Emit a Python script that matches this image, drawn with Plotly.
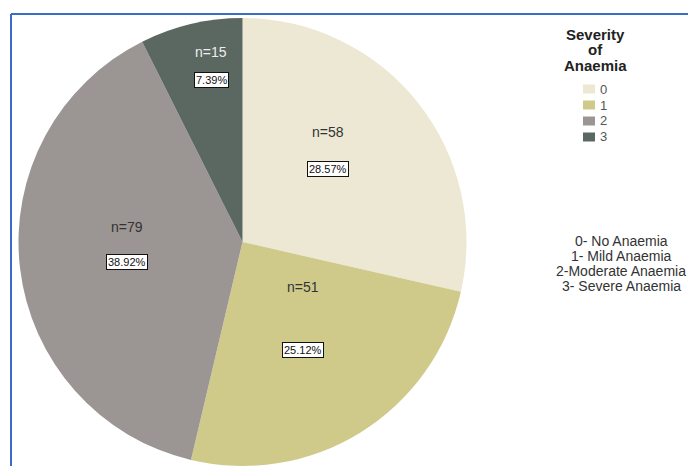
import math
import plotly.graph_objects as go

# ---- data ----
categories = ["0", "1", "2", "3"]
counts = [58, 51, 79, 15]
legend_title_lines = ["Severity", "of", "Anaemia"]
key_lines = ["0- No Anaemia", "1- Mild Anaemia", "2-Moderate Anaemia", "3- Severe Anaemia"]

# ---- style ----
colors = ["#ece8d3", "#cfca8a", "#9b9594", "#5b6761"]
n_colors = ["#333333", "#333333", "#333333", "#eeeeee"]
label_t = [0.42, 0.43, 0.54, 0.62]     # angular position within slice (0..1)
label_r = [0.56, 0.435, 0.517, 0.80]   # radial fraction for label group
label_gap = [37, 63, 35, 28]           # px between n-label and % box
FONT = "Liberation Sans, Arial, sans-serif"

OFF = 8  # page body margin; convert page px -> figure px
W, H = 696 - OFF, 466 - OFF


def px_x(p):
    return (p - OFF) / W


def px_y(p):
    return 1 - (p - OFF) / H


# pie extends 3px below the visible page; keep domain inside [0,1]
top, left, right = 18, 17, 468
diam = right - left
dom_x = [px_x(left), px_x(right)]
dom_y = [max(0.0, px_y(top + diam)), px_y(top)]

fig = go.Figure()
fig.add_trace(go.Pie(
    labels=categories,
    values=counts,
    sort=False,
    direction="clockwise",
    rotation=0,
    marker=dict(colors=colors, line=dict(width=0)),
    textinfo="none",
    hoverinfo="label+value+percent",
    domain=dict(x=dom_x, y=dom_y),
    showlegend=False,
))

# label positions derived from slice angles
total = sum(counts)
dh = (dom_y[1] - dom_y[0]) * H
dw = (dom_x[1] - dom_x[0]) * W
R = min(dh, dw) / 2
cx = (dom_x[0] + dom_x[1]) / 2 * W
cy = (1 - (dom_y[0] + dom_y[1]) / 2) * H

annotations = []
shapes = []
cum = 0
for i, v in enumerate(counts):
    ang = (cum + v * label_t[i]) / total * 2 * math.pi
    cum += v
    px = cx + label_r[i] * R * math.sin(ang)
    py = cy - label_r[i] * R * math.cos(ang)
    xp, yp = px / W, 1 - py / H
    annotations.append(dict(
        x=xp, y=yp, xref="paper", yref="paper", showarrow=False,
        xanchor="center", yanchor="middle",
        text=f"n={v}", yshift=label_gap[i] / 2,
        font=dict(family=FONT, size=14, color=n_colors[i]),
    ))
    annotations.append(dict(
        x=xp, y=yp, xref="paper", yref="paper", showarrow=False,
        xanchor="center", yanchor="middle",
        text=f"{v / total * 100:.2f}%", yshift=-label_gap[i] / 2,
        font=dict(family=FONT, size=11, color="#111111"),
        bgcolor="#ffffff", bordercolor="#111111", borderwidth=1, borderpad=1,
    ))

# legend title (centered, bold)
for j, t in enumerate(legend_title_lines):
    annotations.append(dict(
        x=px_x(595), y=px_y(34 + 16 * j), xref="paper", yref="paper", showarrow=False,
        xanchor="center", yanchor="middle",
        text=f"<b>{t}</b>", font=dict(family=FONT, size=15, color="#222222"),
    ))

# legend entries (swatch + label) built from categories/colors
for j, (cat, col) in enumerate(zip(categories, colors)):
    yc = 89 + 16 * j
    shapes.append(dict(
        type="rect", xref="paper", yref="paper",
        x0=px_x(583), x1=px_x(595), y0=px_y(yc + 4.5), y1=px_y(yc - 4.5),
        fillcolor=col, line=dict(width=0),
    ))
    annotations.append(dict(
        x=px_x(598), y=px_y(yc), xref="paper", yref="paper", showarrow=False,
        xanchor="left", yanchor="middle",
        text=cat, font=dict(family=FONT, size=13, color="#555555"),
    ))

# key text
for j, t in enumerate(key_lines):
    annotations.append(dict(
        x=px_x(621), y=px_y(241 + 15 * j), xref="paper", yref="paper", showarrow=False,
        xanchor="center", yanchor="middle",
        text=t, font=dict(family=FONT, size=14, color="#333333"),
    ))

shapes += [
    dict(type="line", xref="paper", yref="paper", x0=px_x(11), x1=1, y0=px_y(14), y1=px_y(14),
         line=dict(color="#3d6cc4", width=2)),
    dict(type="line", xref="paper", yref="paper", x0=px_x(11), x1=px_x(11), y0=px_y(14), y1=0,
         line=dict(color="#3d6cc4", width=2)),
]

fig.update_layout(
    width=W, height=H,
    margin=dict(l=0, r=0, t=0, b=0),
    paper_bgcolor="#ffffff",
    plot_bgcolor="#ffffff",
    font=dict(family=FONT),
    showlegend=False,
    annotations=annotations,
    shapes=shapes,
)

fig.write_html("out.html")
